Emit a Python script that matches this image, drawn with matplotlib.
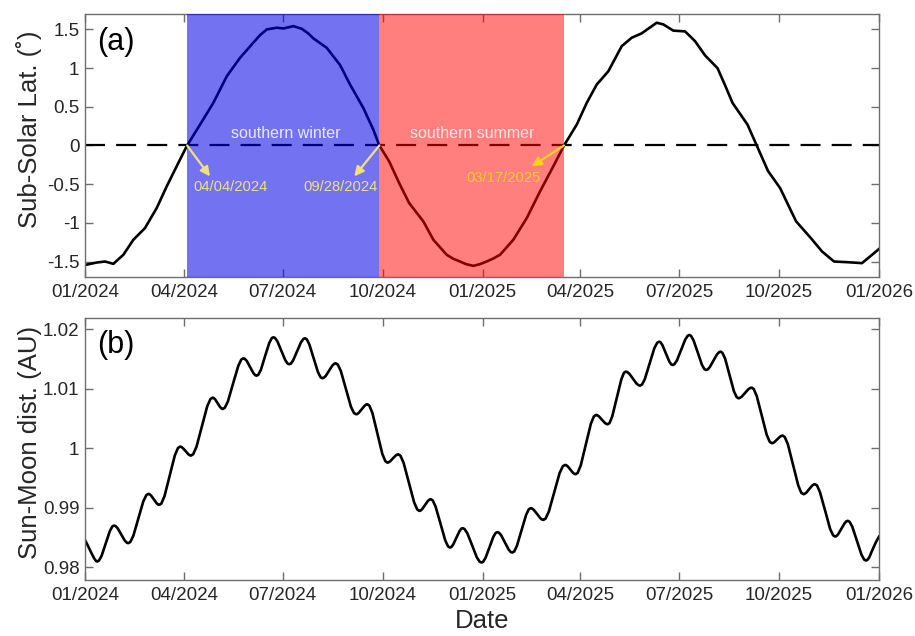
import numpy as np
import matplotlib
matplotlib.use("Agg")
import matplotlib.pyplot as plt
import matplotlib.dates as mdates
from matplotlib.ticker import FormatStrFormatter

plt.rcParams['font.family'] = ['Liberation Sans', 'DejaVu Sans']
plt.rcParams['axes.unicode_minus'] = False

# days since 2024-01-01
lat_days = [0, 10.8, 18.4, 26.1, 35.3, 44.5, 55.2, 66.0, 75.2, 85.9, 94, 105.9, 118.1,
            130.5, 142.7, 154.9, 161.0, 167.3, 176.5, 182.6, 191.8, 199.5, 205.0, 210.2,
            222.5, 234.8, 244.0, 256.2, 265.4, 271, 280.0, 289.2, 298.4, 311.5, 320.7,
            333.0, 339.0, 345.2, 351.0, 357.5, 363.5, 369.8, 376.0, 382.1, 394.3, 406.7,
            418.9, 431.1, 441, 452.7, 461.9, 471.1, 481.8, 494.1, 503.3, 512.5, 526.3,
            532.4, 541.6, 552.4, 561.6, 570.8, 582.3, 589.2, 596.1, 609.9, 618.4, 628.8,
            639.9, 654.6, 668.4, 678.5, 689.6, 703.4, 715.3, 722.7, 731]
lat_vals = [-1.545, -1.513, -1.500, -1.530, -1.413, -1.219, -1.068, -0.809, -0.529, -0.226,
            0.0, 0.270, 0.550, 0.895, 1.133, 1.328, 1.425, 1.500, 1.522, 1.513, 1.543, 1.509,
            1.455, 1.385, 1.263, 1.040, 0.788, 0.486, 0.205, 0.0, -0.205, -0.485, -0.744,
            -0.982, -1.219, -1.413, -1.465, -1.500, -1.535, -1.556, -1.535, -1.500, -1.460,
            -1.413, -1.219, -0.938, -0.594, -0.270, 0.0, 0.270, 0.551, 0.788, 0.960, 1.284,
            1.393, 1.450, 1.587, 1.565, 1.485, 1.475, 1.349, 1.165, 1.000, 0.780, 0.551,
            0.270, 0.0, -0.330, -0.550, -0.980, -1.200, -1.370, -1.500, -1.510, -1.521,
            -1.435, -1.338]

dist_days = [0,
             2.8, 5.7, 8.5, 10.2, 11.3,
             12.8, 15.2, 19.0, 22.9, 25.2, 26.7,
             28.0, 30.0, 33.3, 36.6, 38.6, 39.9,
             41.7, 44.5, 49.1, 53.7, 56.5, 58.3,
             59.3, 60.8, 63.4, 65.9, 67.4, 68.4,
             70.3, 73.2, 78.0, 82.7, 85.6, 87.5,
             88.5, 90.0, 92.6, 95.1, 96.6, 97.6,
             99.6, 102.6, 107.6, 112.5, 115.5, 117.5,
             118.4, 119.8, 122.2, 124.5, 125.9, 126.8,
             128.7, 131.6, 136.3, 141.1, 143.9, 145.8,
             147.0, 148.9, 151.9, 155.0, 156.8, 158.0,
             159.5, 161.9, 165.7, 169.6, 171.9, 173.4,
             174.9, 177.1, 180.7, 184.4, 186.5, 188.0,
             189.5, 191.6, 195.3, 198.9, 201.1, 202.5,
             204.1, 206.5, 210.5, 214.5, 216.9, 218.5,
             219.7, 221.6, 224.7, 227.7, 229.6, 230.8,
             232.7, 235.5, 240.2, 244.8, 247.6, 249.5,
             250.6, 252.1, 254.8, 257.4, 258.9, 260.0,
             261.8, 264.6, 269.2, 273.7, 276.5, 278.3,
             279.3, 280.9, 283.4, 286.0, 287.5, 288.5,
             290.4, 293.3, 298.2, 303.0, 305.9, 307.8,
             308.9, 310.4, 313.1, 315.7, 317.3, 318.3,
             320.1, 322.7, 327.2, 331.6, 334.2, 336.0,
             337.2, 338.9, 341.9, 344.8, 346.5, 347.7,
             349.4, 352.0, 356.4, 360.7, 363.3, 365.0,
             366.5, 368.7, 372.3, 376.0, 378.1, 379.6,
             381.0, 383.1, 386.5, 390.0, 392.0, 393.4,
             395.1, 397.6, 401.9, 406.1, 408.6, 410.3,
             411.5, 413.2, 416.2, 419.1, 420.8, 422.0,
             424.0, 427.0, 432.0, 436.9, 439.9, 441.9,
             442.9, 444.4, 446.8, 449.3, 450.7, 451.7,
             453.6, 456.4, 461.1, 465.7, 468.5, 470.4,
             471.5, 473.1, 475.8, 478.5, 480.1, 481.2,
             482.9, 485.4, 489.5, 493.7, 496.1, 497.8,
             499.1, 501.1, 504.4, 507.7, 509.7, 511.0,
             512.8, 515.4, 519.8, 524.1, 526.8, 528.5,
             529.8, 531.6, 534.8, 537.9, 539.8, 541.0,
             542.5, 544.9, 548.7, 552.6, 554.9, 556.4,
             557.9, 560.2, 564.1, 567.9, 570.2, 571.7,
             573.1, 575.1, 578.5, 581.8, 583.9, 585.2,
             586.8, 589.3, 593.4, 597.4, 599.9, 601.5,
             602.7, 604.6, 607.7, 610.7, 612.6, 613.8,
             615.6, 618.4, 623.0, 627.6, 630.4, 632.2,
             633.2, 634.7, 637.3, 639.8, 641.3, 642.3,
             644.2, 647.1, 651.8, 656.6, 659.4, 661.3,
             662.4, 664.0, 666.7, 669.3, 670.9, 672.0,
             673.9, 676.6, 681.3, 685.9, 688.7, 690.5,
             691.7, 693.4, 696.4, 699.3, 701.0, 702.2,
             703.9, 706.4, 710.6, 714.8, 717.3, 719.0,
             720.2, 722.0, 725.0, 728.0, 731.0]
dist_vals = [0.98460,
             0.98360, 0.98250, 0.98150, 0.98109, 0.98100,
             0.98115, 0.98191, 0.98402, 0.98613, 0.98690, 0.98704,
             0.98697, 0.98660, 0.98556, 0.98452, 0.98415, 0.98408,
             0.98428, 0.98532, 0.98822, 0.99112, 0.99216, 0.99236,
             0.99232, 0.99208, 0.99144, 0.99079, 0.99055, 0.99051,
             0.99074, 0.99198, 0.99541, 0.99883, 1.00006, 1.00030,
             1.00026, 1.00007, 0.99955, 0.99902, 0.99883, 0.99879,
             0.99902, 1.00025, 1.00366, 1.00706, 1.00829, 1.00852,
             1.00847, 1.00824, 1.00757, 1.00691, 1.00667, 1.00662,
             1.00682, 1.00790, 1.01088, 1.01385, 1.01493, 1.01513,
             1.01506, 1.01469, 1.01367, 1.01265, 1.01228, 1.01221,
             1.01236, 1.01318, 1.01544, 1.01769, 1.01851, 1.01866,
             1.01855, 1.01798, 1.01640, 1.01481, 1.01424, 1.01413,
             1.01423, 1.01478, 1.01631, 1.01784, 1.01839, 1.01849,
             1.01833, 1.01748, 1.01514, 1.01279, 1.01194, 1.01178,
             1.01184, 1.01216, 1.01304, 1.01391, 1.01423, 1.01429,
             1.01408, 1.01301, 1.01001, 1.00701, 1.00594, 1.00573,
             1.00577, 1.00598, 1.00657, 1.00716, 1.00737, 1.00741,
             1.00717, 1.00594, 1.00251, 0.99908, 0.99785, 0.99761,
             0.99764, 0.99782, 0.99831, 0.99879, 0.99897, 0.99900,
             0.99877, 0.99758, 0.99425, 0.99093, 0.98973, 0.98950,
             0.98955, 0.98980, 0.99049, 0.99118, 0.99142, 0.99147,
             0.99127, 0.99025, 0.98741, 0.98456, 0.98354, 0.98334,
             0.98342, 0.98383, 0.98497, 0.98611, 0.98652, 0.98660,
             0.98646, 0.98573, 0.98372, 0.98170, 0.98097, 0.98083,
             0.98095, 0.98160, 0.98338, 0.98517, 0.98581, 0.98593,
             0.98585, 0.98542, 0.98422, 0.98301, 0.98258, 0.98250,
             0.98268, 0.98362, 0.98623, 0.98884, 0.98978, 0.98996,
             0.98991, 0.98966, 0.98898, 0.98829, 0.98804, 0.98799,
             0.98821, 0.98938, 0.99261, 0.99584, 0.99700, 0.99722,
             0.99718, 0.99699, 0.99644, 0.99589, 0.99570, 0.99566,
             0.99590, 0.99715, 1.00064, 1.00413, 1.00538, 1.00562,
             1.00558, 1.00538, 1.00484, 1.00429, 1.00409, 1.00405,
             1.00426, 1.00538, 1.00847, 1.01156, 1.01268, 1.01289,
             1.01283, 1.01254, 1.01172, 1.01089, 1.01060, 1.01054,
             1.01072, 1.01165, 1.01423, 1.01681, 1.01774, 1.01792,
             1.01783, 1.01733, 1.01596, 1.01459, 1.01409, 1.01400,
             1.01412, 1.01476, 1.01652, 1.01828, 1.01892, 1.01904,
             1.01890, 1.01816, 1.01611, 1.01405, 1.01331, 1.01317,
             1.01324, 1.01363, 1.01471, 1.01578, 1.01617, 1.01624,
             1.01605, 1.01507, 1.01233, 1.00959, 1.00861, 1.00842,
             1.00846, 1.00869, 1.00931, 1.00993, 1.01016, 1.01020,
             1.00998, 1.00880, 1.00554, 1.00227, 1.00109, 1.00087,
             1.00090, 1.00106, 1.00151, 1.00196, 1.00212, 1.00215,
             1.00191, 1.00067, 0.99723, 0.99379, 0.99255, 0.99231,
             0.99235, 0.99256, 0.99315, 0.99373, 0.99394, 0.99398,
             0.99377, 0.99266, 0.98959, 0.98651, 0.98540, 0.98519,
             0.98525, 0.98559, 0.98651, 0.98743, 0.98777, 0.98783,
             0.98767, 0.98683, 0.98450, 0.98216, 0.98132, 0.98116,
             0.98126, 0.98170, 0.98300, 0.98420, 0.98519]

season_edges = ['2024-04-04', '2024-09-28', '2025-03-17']
season_names = ['southern winter', 'southern summer']
edge_labels = ['04/04/2024', '09/28/2024', '03/17/2025']

start = mdates.date2num(np.datetime64('2024-01-01'))
end = mdates.date2num(np.datetime64('2026-01-01'))
lat_x = start + np.array(lat_days)
dist_x = start + np.array(dist_days)
edges = [mdates.date2num(np.datetime64(d)) for d in season_edges]

tick_color = '#262626'
frame_color = '#6e6e6e'


def style_axis(ax):
    ax.set_xlim(start, end)
    ax.xaxis.set_major_locator(mdates.MonthLocator(bymonth=[1, 4, 7, 10]))
    ax.xaxis.set_major_formatter(mdates.DateFormatter('%m/%Y'))
    ax.tick_params(direction='in', length=6, width=1, color=frame_color,
                   top=True, right=True, labelsize=13.5, labelcolor=tick_color)
    ax.tick_params(axis='x', pad=5)
    ax.tick_params(axis='y', pad=4)
    for s in ax.spines.values():
        s.set_color(frame_color)
        s.set_linewidth(1.0)


fig = plt.figure(figsize=(9.15, 6.36), dpi=100)
ax1 = fig.add_axes([0.0929, 0.5645, 0.8678, 0.4135])
ax2 = fig.add_axes([0.0929, 0.0881, 0.8678, 0.4124])

# panel (a)
ax1.plot(lat_x, lat_vals, color='black', lw=1.9, solid_joinstyle='round', zorder=2)
ax1.axhline(0, color='black', lw=1.6, dashes=(9, 5), zorder=2)
ax1.axvspan(edges[0], edges[1], color=(0, 0, 0.9), alpha=0.55, lw=0, zorder=3)
ax1.axvspan(edges[1], edges[2], color=(1, 0, 0), alpha=0.5, lw=0, zorder=3)
ax1.set_ylim(-1.7, 1.7)
ax1.set_yticks([-1.5, -1, -0.5, 0, 0.5, 1, 1.5])
ax1.yaxis.set_major_formatter(FormatStrFormatter('%g'))
style_axis(ax1)
ax1.set_ylabel('Sub-Solar Lat. (˚)', fontsize=18.5, color=tick_color)
ax1.yaxis.set_label_coords(-0.054, 0.56)
ax1.text(0.015, 0.894, '(a)', transform=ax1.transAxes, fontsize=22,
         ha='left', va='center', color='black', zorder=5)

ax1.text(start + 184.8, 0.153, season_names[0], color='#e8e8f8', fontsize=11.5,
         ha='center', va='center', zorder=5)
ax1.text(start + 356.8, 0.153, season_names[1], color='#fae6e6', fontsize=11.5,
         ha='center', va='center', zorder=5)

pale = '#f0e080'
bright = '#ffd21a'
arrow_kw = dict(arrowstyle='-|>', lw=1.6, mutation_scale=14, shrinkA=0, shrinkB=0)
ax1.annotate('', xy=(start + 115.1, -0.40), xytext=(edges[0], 0),
             arrowprops=dict(color=pale, **arrow_kw), zorder=5)
ax1.annotate('', xy=(start + 247.9, -0.40), xytext=(edges[1], 0),
             arrowprops=dict(color=pale, **arrow_kw), zorder=5)
ax1.annotate('', xy=(start + 411.2, -0.27), xytext=(edges[2], 0),
             arrowprops=dict(color=bright, **arrow_kw), zorder=5)
ax1.text(start + 99.7, -0.54, edge_labels[0], color=pale, fontsize=10.6,
         ha='left', va='center', zorder=5)
ax1.text(start + 235.0, -0.54, edge_labels[1], color=pale, fontsize=10.6,
         ha='center', va='center', zorder=5)
ax1.text(start + 385.1, -0.42, edge_labels[2], color='#ffc830', fontsize=10.6,
         ha='center', va='center', zorder=5)

# panel (b)
ax2.plot(dist_x, dist_vals, color='black', lw=1.9, solid_joinstyle='round')
ax2.set_ylim(0.9779, 1.02195)
ax2.set_yticks([0.98, 0.99, 1.0, 1.01, 1.02])
ax2.yaxis.set_major_formatter(FormatStrFormatter('%g'))
style_axis(ax2)
ax2.set_ylabel('Sun-Moon dist. (AU)', fontsize=18.5, color=tick_color)
ax2.yaxis.set_label_coords(-0.054, 0.524)
ax2.set_xlabel('Date', fontsize=18.5, color=tick_color, labelpad=4)
ax2.text(0.015, 0.896, '(b)', transform=ax2.transAxes, fontsize=22,
         ha='left', va='center', color='black', zorder=5)

fig.savefig('out.png', dpi=100)
